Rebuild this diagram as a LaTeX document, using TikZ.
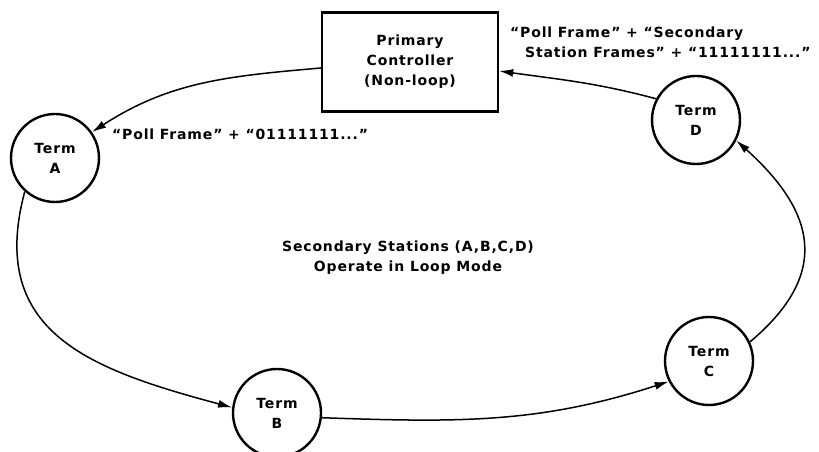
\documentclass[tikz,border=0pt]{standalone}
\usepackage{fontspec}
\setmainfont{DejaVu Sans}
\usetikzlibrary{arrows.meta}

\begin{document}
\begin{tikzpicture}[x=1pt,y=1pt,
    txt/.style={font=\fontsize{14}{20}\selectfont\bfseries\addfontfeatures{LetterSpace=6}},
    term/.style={txt, draw, circle, line width=2.4pt, minimum size=88pt, inner sep=0pt, align=center},
    ctrl/.style={txt, draw, rectangle, line width=2.4pt, minimum width=176pt, minimum height=99pt, align=center},
    lbl/.style={txt, inner sep=0pt},
    link/.style={line width=1.5pt, -{Latex[length=14pt,width=8pt]}}]

\clip (0,0) rectangle (819,452);

% controller and the four loop stations
\node[ctrl] (pc) at (410,390) {Primary\\Controller\\(Non-loop)};
\node[term] (A) at (55,294) {Term\\A};
\node[term] (B) at (277,39) {Term\\B};
\node[term] (C) at (709,91) {Term\\C};
\node[term] (D) at (696,332) {Term\\D};

% labels
\node[lbl, anchor=west] (pollA) at (112,318) {“Poll Frame” + “01111111...”};
\node[lbl, anchor=north west, align=left] (pollD) at (510,425)
    {“Poll Frame” + “Secondary\\\hspace*{15pt}Station Frames” + “11111111...”};
\node[lbl, align=center] (mode) at (408,194) {Secondary Stations (A,B,C,D)\\Operate in Loop Mode};

% loop
\draw[link] ([yshift=-6pt]pc.west) to[out=185, in=33] (A.35);
\draw[link] (A.228) to[out=255, in=165, looseness=1.25] (B.173);
\draw[link] (B.-6) to[out=-2, in=198] (C.207);
\draw[link] (C.25) to[out=40, in=-42, looseness=1.35] (D.-27);
\draw[link] (D.152) to[out=165, in=-8] ([yshift=-9pt]pc.east);

\end{tikzpicture}
\end{document}
